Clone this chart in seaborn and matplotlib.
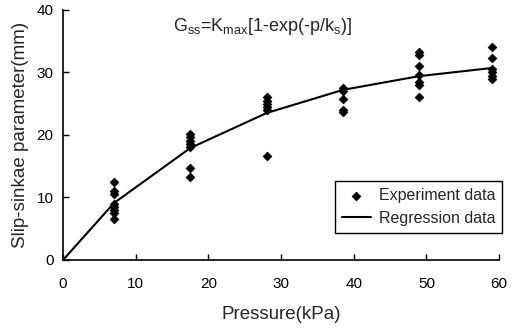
import matplotlib
matplotlib.use("Agg")
import matplotlib.pyplot as plt
import seaborn as sns
import pandas as pd

# experiment points
pressure_levels = [7, 17.5, 28, 38.5, 49, 59]
sinkage_values = [
    [12.5, 11.0, 10.5, 9.0, 8.5, 8.0, 7.5, 6.5],
    [20.2, 19.6, 19.0, 18.5, 18.0, 14.7, 13.2],
    [26.0, 25.5, 25.0, 24.5, 24.0, 16.7],
    [27.5, 27.0, 25.8, 24.0, 23.6],
    [33.3, 32.8, 31.0, 29.6, 28.5, 28.0, 26.0],
    [34.1, 32.3, 30.5, 30.0, 29.4, 28.9],
]

# regression curve
reg_pressure = [0, 7, 17.5, 28, 38.5, 49, 59]
reg_sinkage = [0, 9.1, 17.9, 23.5, 27.2, 29.4, 30.7]

exp_df = pd.DataFrame(
    [(p, v) for p, vals in zip(pressure_levels, sinkage_values) for v in vals],
    columns=["pressure", "sinkage"],
)
reg_df = pd.DataFrame({"pressure": reg_pressure, "sinkage": reg_sinkage})

sns.set_style("ticks")
plt.rcParams["font.family"] = ["Liberation Sans", "DejaVu Sans"]
plt.rcParams["mathtext.fontset"] = "custom"
plt.rcParams["mathtext.rm"] = "Liberation Sans"

fig = plt.figure(figsize=(5.26, 3.29), dpi=100)
ax = fig.add_axes([0.12, 0.21, 0.829, 0.76])

sns.lineplot(data=reg_df, x="pressure", y="sinkage", color="black", lw=1.5,
             ax=ax, label="Regression data")
sns.scatterplot(data=exp_df, x="pressure", y="sinkage", marker="D", s=20,
                color="black", edgecolor="black", linewidth=0.5, ax=ax,
                label="Experiment data")

ax.set_xlim(0, 60)
ax.set_ylim(0, 40)
ax.set_xticks(range(0, 61, 10))
ax.set_yticks(range(0, 41, 10))
ax.tick_params(direction="in", length=4, width=1, labelsize=11, colors="black")
ax.tick_params(axis="x", pad=12)
ax.tick_params(axis="y", pad=7)
for side in ["top", "right"]:
    ax.spines[side].set_visible(False)
for side in ["left", "bottom"]:
    ax.spines[side].set_linewidth(1.2)
    ax.spines[side].set_color("black")

ax.set_xlabel("Pressure(kPa)", fontsize=13.5, labelpad=11)
ax.set_ylabel("Slip-sinkae parameter(mm)", fontsize=13.5, labelpad=5)

ax.text(27.5, 37.4, r"G$_{\rm ss}$=K$_{\rm max}$[1-exp(-p/k$_{\rm s}$)]",
        ha="center", va="center", fontsize=13)

handles, labels = ax.get_legend_handles_labels()
order = [labels.index("Experiment data"), labels.index("Regression data")]
leg = ax.legend([handles[i] for i in order], [labels[i] for i in order],
                loc="lower right", bbox_to_anchor=(1.007, 0.108),
                fancybox=False, edgecolor="black", framealpha=1,
                fontsize=11.5, handlelength=1.8, borderaxespad=0,
                borderpad=0.45, labelspacing=0.5, handletextpad=0.5)
leg.get_frame().set_linewidth(1.0)

fig.savefig("out.png", dpi=100)
